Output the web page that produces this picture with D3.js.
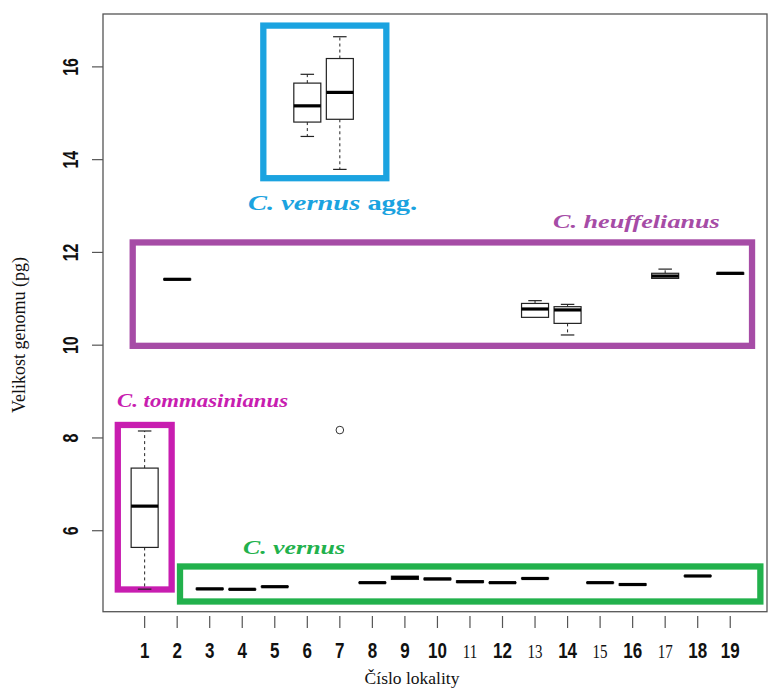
<!DOCTYPE html>
<html>
<head>
<meta charset="utf-8">
<script src="https://cdn.jsdelivr.net/npm/d3@7"></script>
<style>
  body { margin: 0; background: #fff; }
  svg { display: block; }
</style>
</head>
<body>
<script>
// tick labels on the x axis (locality numbers)
var localities = [1, 2, 3, 4, 5, 6, 7, 8, 9, 10, 11, 12, 13, 14, 15, 16, 17, 18, 19];
var serifTicks = [11, 13, 15, 17];
var yTicks = [6, 8, 10, 12, 14, 16];

// box statistics per locality (genome size, pg)
var boxLoc  = [1,    6,     7,     2,     13,    14,    17,    19,    3,    4,     5,    8,     9,    10,    11,   12,    13,    15,    16,   18];
var boxLow  = [4.74, 14.50, 13.79, 11.40, 10.60, 10.22, 11.42, 11.52, 4.73, 4.730, 4.79, 4.870, 4.93, 4.930, 4.87, 4.870, 4.960, 4.875, 4.81, 5.015];
var boxQ1   = [5.64, 14.81, 14.87, 11.41, 10.60, 10.47, 11.44, 11.53, 4.735,4.733, 4.79, 4.875, 4.95, 4.945, 4.885,4.875, 4.965, 4.878, 4.825,5.020];
var boxMed  = [6.53, 15.16, 15.45, 11.42, 10.78, 10.76, 11.49, 11.55, 4.745,4.737, 4.793,4.880, 4.99, 4.960, 4.90, 4.880, 4.970, 4.880, 4.84, 5.024];
var boxQ3   = [7.35, 15.65, 16.18, 11.43, 10.90, 10.83, 11.55, 11.56, 4.76, 4.742, 4.80, 4.885, 5.02, 4.975, 4.92, 4.885, 4.980, 4.885, 4.855,5.030];
var boxHigh = [8.15, 15.84, 16.65, 11.44, 10.96, 10.88, 11.64, 11.58, 4.77, 4.745, 4.80, 4.890, 5.03, 4.990, 4.93, 4.890, 4.985, 4.890, 4.86, 5.035];

// outliers
var outLoc = [7];
var outVal = [8.17];

// species frames, in data units: [x0, x1, yTop, yBottom]
var groupNames  = ["C. vernus agg.", "C. heuffelianus", "C. tommasinianus", "C. vernus"];
var groupColors = ["#1ba3e0", "#a64ca6", "#c81db0", "#22b14c"];
var groupFrames = [[4.648, 8.429, 16.89, 13.60], [0.633, 19.67, 12.215, 9.986], [0.175, 1.83, 8.28, 4.733], [2.087, 19.926, 5.229, 4.474]];
// label anchor (x start, baseline) and width in data units
var groupLabels = [[4.177, 12.92, 5.2], [13.55, 12.53, 5.13], [0.15, 8.67, 5.26], [4.02, 5.50, 3.14]];

var width = 769, height = 689;

var svg = d3.select("body").append("svg")
    .attr("width", width)
    .attr("height", height);

var x = d3.scaleLinear().domain([-0.28, 20.13]).range([103, 767]);
var y = d3.scaleLinear().domain([4.254, 17.14]).range([611.7, 14]);
var unit = x(1) - x(0);
var boxW = 0.83 * unit;

//species frames (behind boxes)
svg.selectAll(".grp")
    .data(groupFrames)
    .enter()
    .append("rect")
    .attr("class", "grp")
    .attr("x", function(d){ return x(d[0]); })
    .attr("y", function(d){ return y(d[2]); })
    .attr("width", function(d){ return x(d[1]) - x(d[0]); })
    .attr("height", function(d){ return y(d[3]) - y(d[2]); })
    .attr("fill", "none")
    .attr("stroke", function(d, i){ return groupColors[i]; })
    .attr("stroke-width", 6.3);

//plot frame
svg.append("rect")
    .attr("x", x.range()[0])
    .attr("y", y.range()[1])
    .attr("width", x.range()[1] - x.range()[0])
    .attr("height", y.range()[0] - y.range()[1])
    .attr("fill", "none")
    .attr("stroke", "#555")
    .attr("stroke-width", 1.3);

//boxplots
var boxes = svg.selectAll(".box")
    .data(boxLoc)
    .enter()
    .append("g")
    .attr("class", "box");

boxes.each(function(loc, i){
    var g = d3.select(this);
    var cx = x(loc);
    // whiskers
    [[boxQ3[i], boxHigh[i]], [boxQ1[i], boxLow[i]]].forEach(function(w){
        if (Math.abs(y(w[0]) - y(w[1])) > 1.5){
            g.append("line")
                .attr("x1", cx).attr("x2", cx)
                .attr("y1", y(w[0])).attr("y2", y(w[1]))
                .attr("stroke", "#222").attr("stroke-width", 1)
                .attr("stroke-dasharray", "3,3");
            g.append("line")
                .attr("x1", cx - boxW / 4).attr("x2", cx + boxW / 4)
                .attr("y1", y(w[1])).attr("y2", y(w[1]))
                .attr("stroke", "#222").attr("stroke-width", 1.2);
        }
    });
    g.append("rect")
        .attr("x", cx - boxW / 2)
        .attr("y", y(boxQ3[i]))
        .attr("width", boxW)
        .attr("height", Math.max(y(boxQ1[i]) - y(boxQ3[i]), 0.5))
        .attr("fill", "#fff")
        .attr("stroke", "#222")
        .attr("stroke-width", 1.2);
    g.append("line")
        .attr("x1", cx - boxW / 2).attr("x2", cx + boxW / 2)
        .attr("y1", y(boxMed[i])).attr("y2", y(boxMed[i]))
        .attr("stroke", "#000")
        .attr("stroke-width", 3.2);
});

//outlier points
svg.selectAll(".out")
    .data(outLoc)
    .enter()
    .append("circle")
    .attr("class", "out")
    .attr("cx", function(d){ return x(d); })
    .attr("cy", function(d, i){ return y(outVal[i]); })
    .attr("r", 3.8)
    .attr("fill", "none")
    .attr("stroke", "#333")
    .attr("stroke-width", 1);

//y axis ticks and labels
svg.selectAll(".ytick")
    .data(yTicks)
    .enter()
    .append("line")
    .attr("class", "ytick")
    .attr("x1", 92).attr("x2", 103)
    .attr("y1", function(d){ return y(d); })
    .attr("y2", function(d){ return y(d); })
    .attr("stroke", "#555")
    .attr("stroke-width", 1.2);

svg.selectAll(".ylab")
    .data(yTicks)
    .enter()
    .append("text")
    .attr("class", "ylab")
    .attr("transform", function(d){ return "translate(78," + y(d) + ") rotate(-90) scale(1,1.42)"; })
    .attr("text-anchor", "middle")
    .style("font-family", "'Liberation Sans', Arial, sans-serif")
    .style("font-weight", "bold")
    .style("font-size", "16px")
    .attr("fill", "#111")
    .text(function(d){ return d; });

//x axis ticks and labels
svg.selectAll(".xtick")
    .data(localities)
    .enter()
    .append("line")
    .attr("class", "xtick")
    .attr("x1", function(d){ return x(d); })
    .attr("x2", function(d){ return x(d); })
    .attr("y1", 616).attr("y2", 628)
    .attr("stroke", "#555")
    .attr("stroke-width", 1.2);

svg.selectAll(".xlab")
    .data(localities)
    .enter()
    .append("text")
    .attr("class", "xlab")
    .attr("transform", function(d){ return "translate(" + x(d) + ",658) scale(1,1.3)"; })
    .attr("text-anchor", "middle")
    .style("font-family", function(d){ return serifTicks.indexOf(d) >= 0 ? "'Liberation Serif', 'Times New Roman', serif" : "'Liberation Sans', Arial, sans-serif"; })
    .style("font-weight", function(d){ return serifTicks.indexOf(d) >= 0 ? "normal" : "bold"; })
    .style("font-size", function(d){ return serifTicks.indexOf(d) >= 0 ? "15px" : "17px"; })
    .attr("fill", "#111")
    .text(function(d){ return d; });

//axis titles
svg.append("text")
    .attr("x", 412)
    .attr("y", 684)
    .attr("text-anchor", "middle")
    .style("font-family", "'Liberation Serif', 'Times New Roman', serif")
    .style("font-size", "17.5px")
    .attr("fill", "#111")
    .text("Číslo lokality");

svg.append("text")
    .attr("transform", "translate(25,335) rotate(-90)")
    .attr("text-anchor", "middle")
    .style("font-family", "'Liberation Serif', 'Times New Roman', serif")
    .style("font-size", "18px")
    .attr("fill", "#111")
    .text("Velikost genomu (pg)");

//species labels
var labels = svg.selectAll(".glab")
    .data(groupLabels)
    .enter()
    .append("text")
    .attr("class", "glab")
    .attr("x", function(d){ return x(d[0]); })
    .attr("y", function(d){ return y(d[1]); })
    .attr("textLength", function(d){ return d[2] * unit; })
    .attr("lengthAdjust", "spacingAndGlyphs")
    .style("font-family", "'Liberation Serif', 'Times New Roman', serif")
    .style("font-weight", "bold")
    .style("font-size", function(d, i){ return i == 0 ? "21px" : "19px"; })
    .attr("fill", function(d, i){ return groupColors[i]; });

labels.each(function(d, i){
    var t = d3.select(this);
    var name = groupNames[i];
    if (name.indexOf(" agg.") > 0){
        t.append("tspan").style("font-style", "italic").text(name.replace(" agg.", ""));
        t.append("tspan").text(" agg.");
    } else {
        t.append("tspan").style("font-style", "italic").text(name);
    }
});
</script>
</body>
</html>
